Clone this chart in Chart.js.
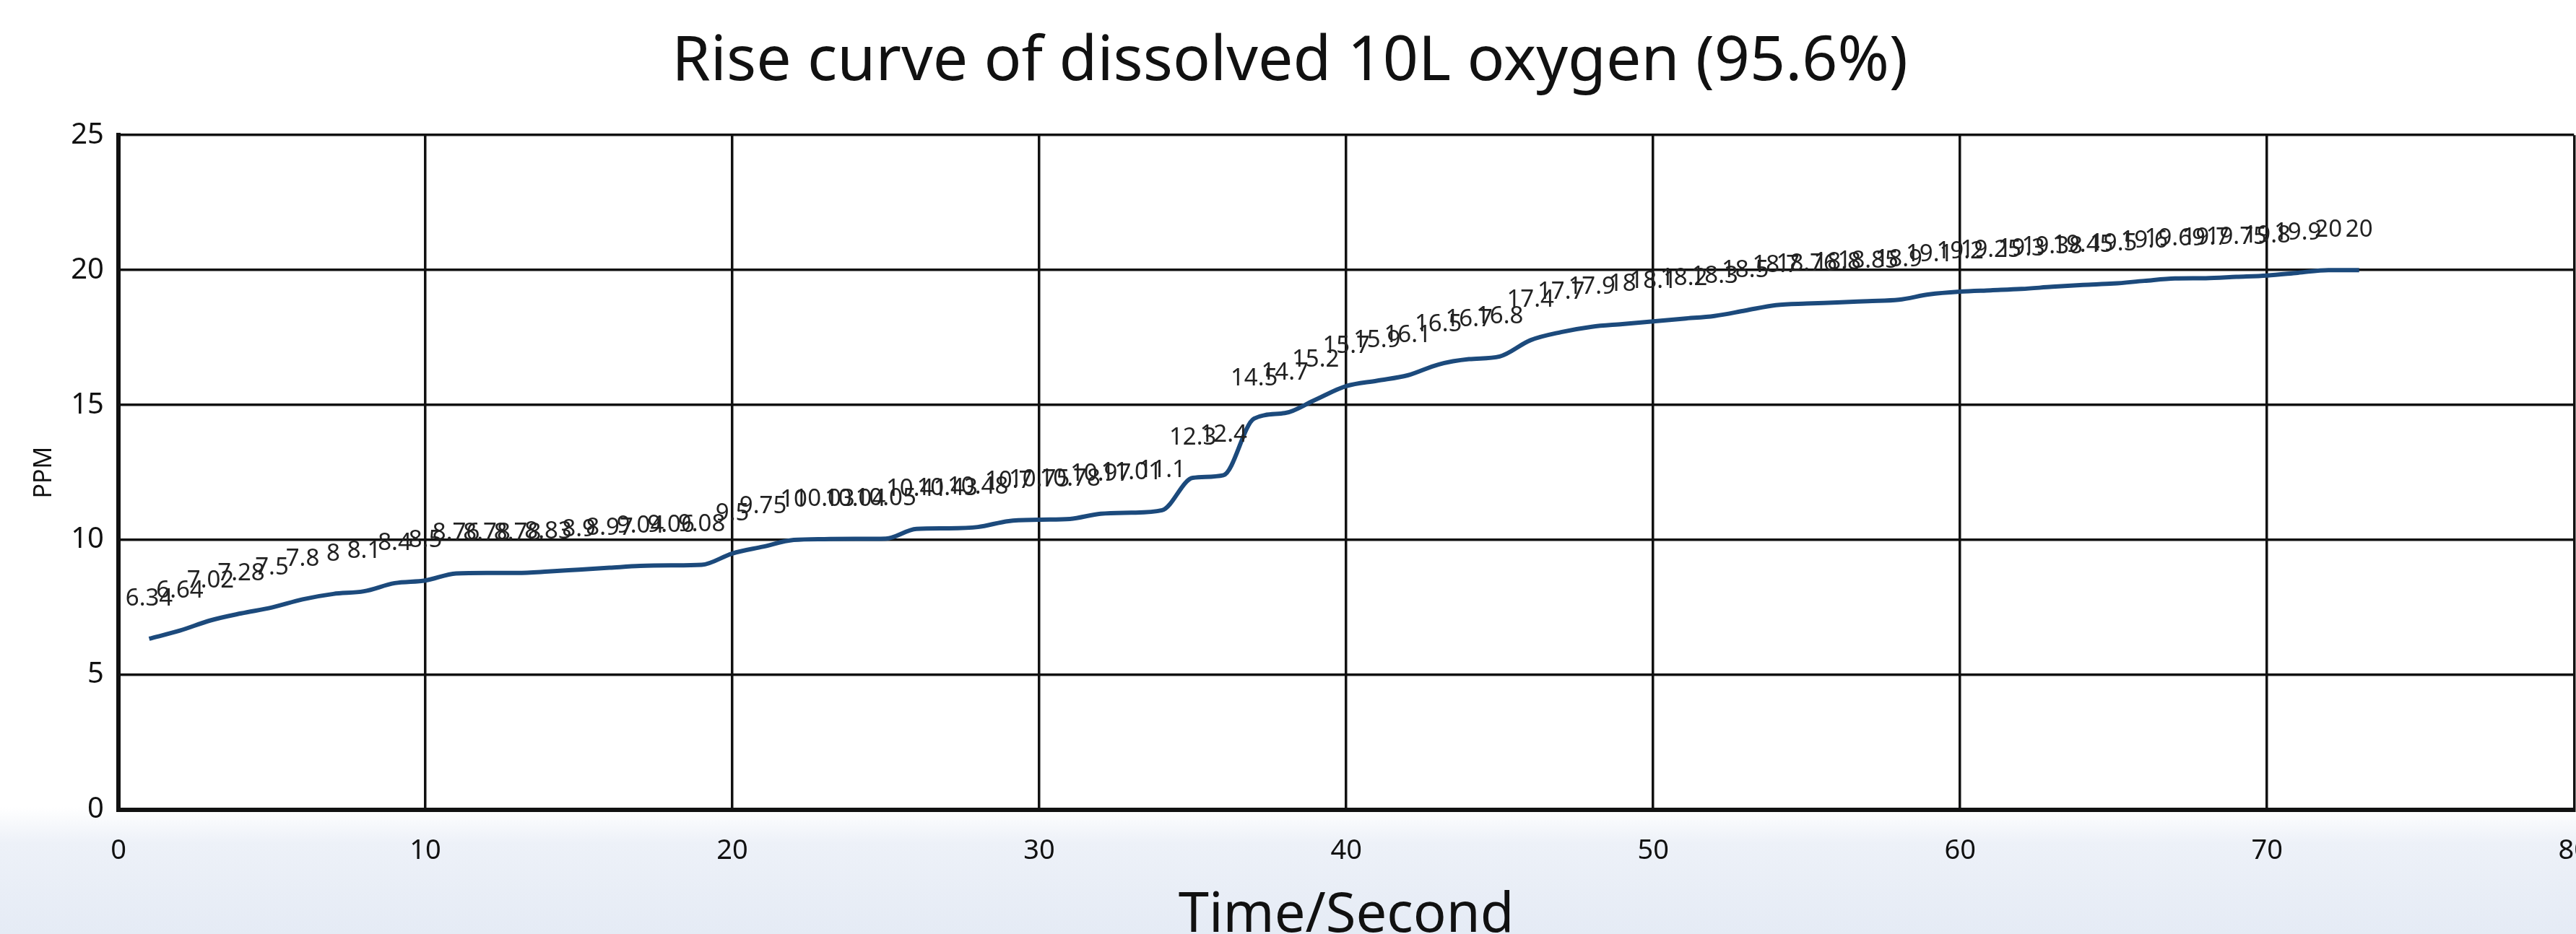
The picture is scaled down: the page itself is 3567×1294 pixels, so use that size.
<!DOCTYPE html>
<html>
<head>
<meta charset="utf-8">
<script src="https://cdn.jsdelivr.net/npm/chart.js@4"></script>
<style>
  html, body { margin: 0; padding: 0; overflow: hidden; }
  body {
    width: 3567px; height: 1294px;
    background: linear-gradient(to bottom, #ffffff 0px, #ffffff 1118px, #edf1f8 1168px, #e5ebf5 1294px);
  }
  #wrap { position: relative; width: 3668px; height: 1294px; margin-left: -48px; }
</style>
</head>
<body>
<div id="wrap"><canvas id="myChart"></canvas></div>
<script>
// seconds and dissolved oxygen readings (ppm)
const seconds = [1, 2, 3, 4, 5, 6, 7, 8, 9, 10,
  11, 12, 13, 14, 15, 16, 17, 18, 19, 20,
  21, 22, 23, 24, 25, 26, 27, 28, 29, 30,
  31, 32, 33, 34, 35, 36, 37, 38, 39, 40,
  41, 42, 43, 44, 45, 46, 47, 48, 49, 50,
  51, 52, 53, 54, 55, 56, 57, 58, 59, 60,
  61, 62, 63, 64, 65, 66, 67, 68, 69, 70,
  71, 72, 73];
const ppm = [6.34, 6.64, 7.02, 7.28, 7.5, 7.8, 8, 8.1, 8.4, 8.5,
  8.76, 8.78, 8.78, 8.83, 8.9, 8.97, 9.04, 9.06, 9.08, 9.5,
  9.75, 10, 10.03, 10.04, 10.05, 10.41, 10.43, 10.48, 10.7, 10.75,
  10.78, 10.97, 11.01, 11.1, 12.3, 12.4, 14.5, 14.7, 15.2, 15.7,
  15.9, 16.1, 16.5, 16.7, 16.8, 17.4, 17.7, 17.9, 18, 18.1,
  18.2, 18.3, 18.5, 18.7, 18.76, 18.8, 18.85, 18.9, 19.1, 19.2,
  19.25, 19.3, 19.38, 19.45, 19.5, 19.6, 19.69, 19.7, 19.75, 19.8,
  19.9, 20, 20];
const xTicks = [0, 10, 20, 30, 40, 50, 60, 70, 80];
const yTicks = [0, 5, 10, 15, 20, 25];

const points = seconds.map((s, i) => ({ x: s, y: ppm[i] }));

// value labels above each point
const valueLabels = {
  id: "valueLabels",
  afterDatasetsDraw(chart) {
    const ctx = chart.ctx;
    const meta = chart.getDatasetMeta(0);
    ctx.save();
    ctx.font = "33px 'Noto Sans'";
    ctx.fillStyle = "#222";
    ctx.textAlign = "center";
    ctx.textBaseline = "alphabetic";
    meta.data.forEach((el, i) => {
      ctx.fillText(String(ppm[i]), el.x, el.y - 46);
    });
    ctx.restore();
  },
};

let chart = document.getElementById("myChart").getContext("2d");

let lineChart = new Chart(chart, {
  type: "line",
  data: {
    datasets: [
      {
        label: "PPM",
        data: points,
        borderColor: "#1c4a7c",
        borderWidth: 6,
        pointRadius: 0,
        cubicInterpolationMode: "monotone",
        fill: false,
      },
    ],
  },
  options: {
    responsive: true,
    maintainAspectRatio: false,
    animation: false,
    layout: { padding: { left: 0, right: 0, top: 0, bottom: 0 } },
    plugins: {
      legend: { display: false },
      tooltip: { enabled: false },
      title: {
        display: true,
        text: "Rise curve of dissolved 10L oxygen (95.6%)",
        color: "#111",
        font: { family: "'Noto Sans'", size: 86, weight: "normal", lineHeight: 1.2 },
        padding: { top: 35, bottom: 49 },
      },
    },
    scales: {
      x: {
        type: "linear",
        min: 0,
        max: 80,
        afterBuildTicks: (s) => { s.ticks = xTicks.map((v) => ({ value: v })); },
        afterFit: (s) => { s.height = 172; },
        ticks: {
          color: "#111",
          font: { family: "'Noto Sans'", size: 38 },
          padding: 34,
          maxRotation: 0,
        },
        grid: { color: "#111", lineWidth: 3.5, drawTicks: false },
        border: { color: "#111", width: 6 },
        title: {
          display: true,
          text: "Time/Second",
          color: "#111",
          font: { family: "'Noto Sans'", size: 76, lineHeight: 0.65 },
          padding: { top: 0, bottom: 0 },
        },
      },
      y: {
        min: 0,
        max: 25,
        afterBuildTicks: (s) => { s.ticks = yTicks.map((v) => ({ value: v })); },
        afterFit: (s) => { s.width = 212; },
        ticks: {
          color: "#111",
          font: { family: "'Noto Sans'", size: 40 },
          padding: 20,
        },
        grid: { color: "#111", lineWidth: 3.5, drawTicks: false },
        border: { color: "#111", width: 6 },
        title: {
          display: true,
          text: "PPM",
          color: "#111",
          font: { family: "'Noto Sans'", size: 34, lineHeight: 1 },
          padding: { top: 92, bottom: 0 },
        },
      },
    },
  },
  plugins: [valueLabels],
});
</script>
</body>
</html>
